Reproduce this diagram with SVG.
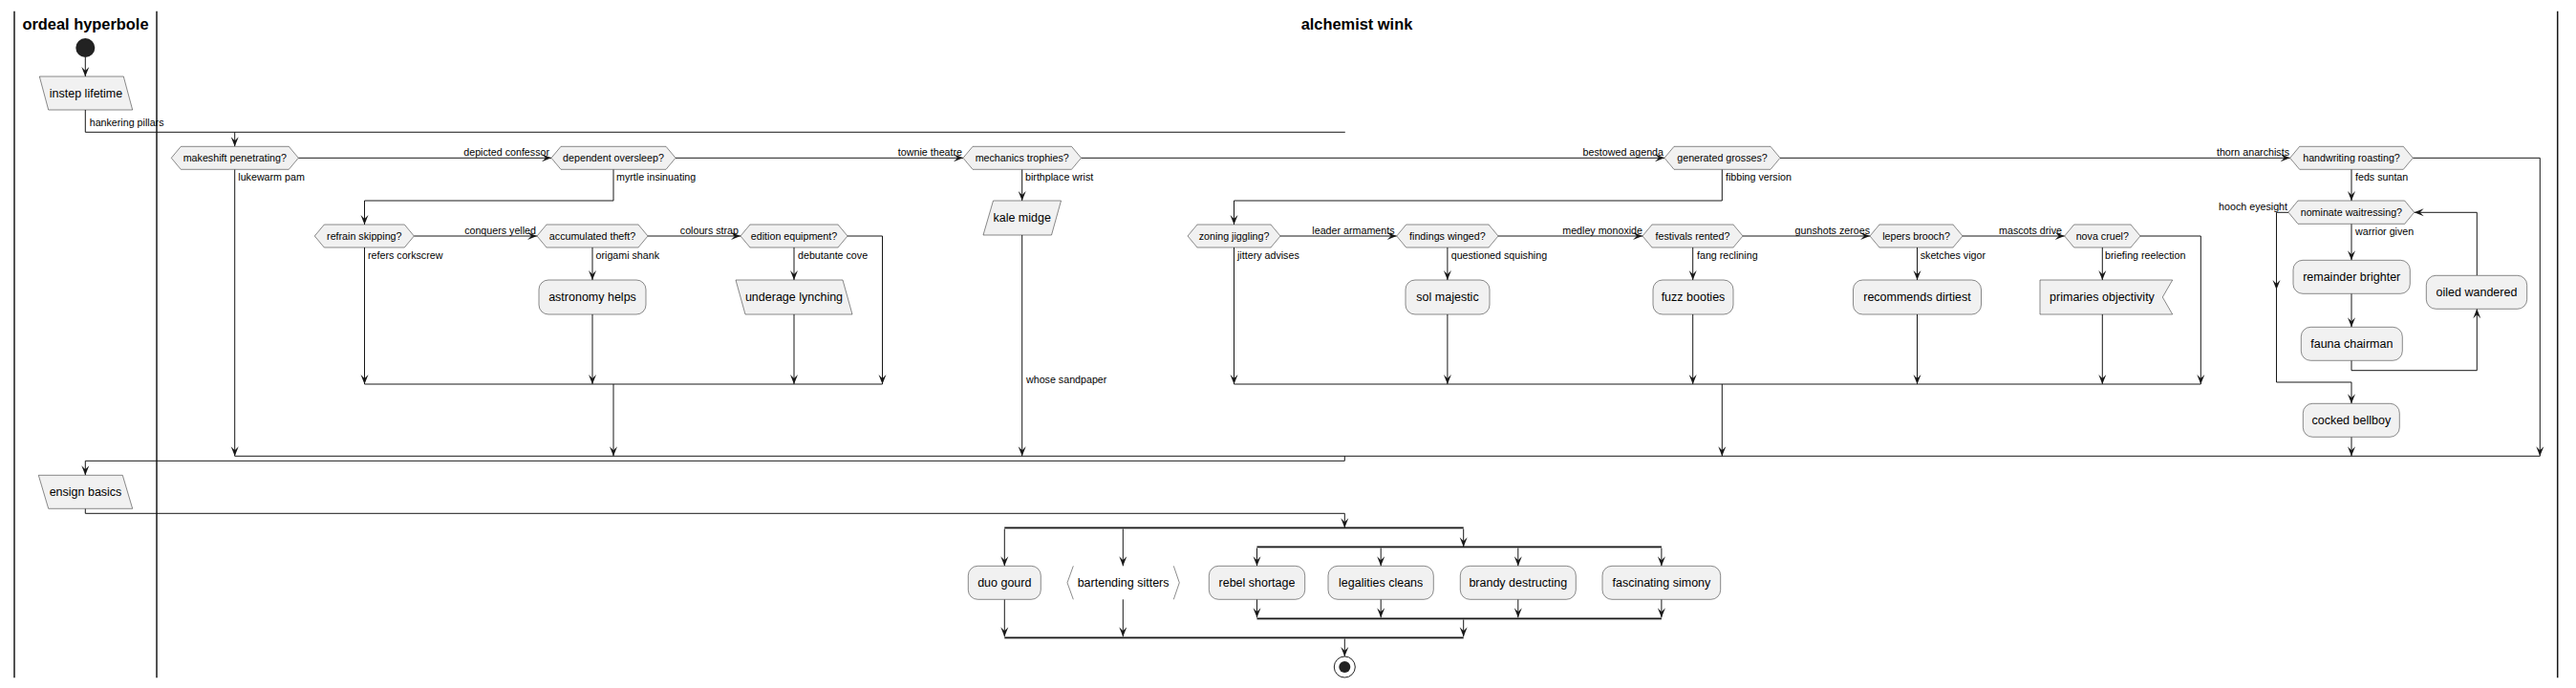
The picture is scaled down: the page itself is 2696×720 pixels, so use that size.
<svg xmlns="http://www.w3.org/2000/svg" width="2696" height="720" viewBox="0 0 2696 720">
<style>
.bg{fill:#FFFFFF}
.lane{stroke:#181818;stroke-width:1.5;fill:none}
.lt{font-family:"Liberation Sans",Arial,sans-serif;font-size:16.4px;font-weight:bold;fill:#000;text-anchor:middle}
.box{fill:#F1F1F1;stroke:#181818;stroke-width:0.5}
.brk{fill:none;stroke:#181818;stroke-width:0.5}
.t{font-family:"Liberation Sans",Arial,sans-serif;font-size:12.5px;fill:#000;text-anchor:middle}
.td{font-family:"Liberation Sans",Arial,sans-serif;font-size:10.7px;fill:#000;text-anchor:middle}
.lb{font-family:"Liberation Sans",Arial,sans-serif;font-size:10.7px;fill:#000}
.le{font-family:"Liberation Sans",Arial,sans-serif;font-size:10.7px;fill:#000;text-anchor:end}
.ln{fill:none;stroke:#181818;stroke-width:1}
.ar{fill:none;stroke:#181818;stroke-width:1;marker-end:url(#ah)}
.bar{stroke:#181818;stroke-width:1.6;fill:none}
.bar2{stroke:#9A9A9A;stroke-width:0.8;fill:none}
</style>
<defs>
<marker id="ah" markerUnits="userSpaceOnUse" markerWidth="12" markerHeight="10" viewBox="-11 -5 12 10" refX="0" refY="0" orient="auto"><path d="M0,0 L-10,-4 L-6,0 L-10,4 Z" fill="#181818"/></marker>
</defs>
<rect class="bg" x="0" y="0" width="2696" height="720"/>
<g id="lanes">
<line class="lane" x1="15" y1="11.7" x2="15" y2="709.3"/>
<line class="lane" x1="164" y1="11.7" x2="164" y2="709.3"/>
<line class="lane" x1="2676.7" y1="11.7" x2="2676.7" y2="709.3"/>
<text class="lt" x="89.5" y="31">ordeal hyperbole</text>
<text class="lt" x="1420" y="31">alchemist wink</text>
</g>
<g id="connectors">
<path class="ar" d="M89.3,60 V80"/>
<path class="ln" d="M89.3,115 V138.3 H1407.8"/>
<path class="ar" d="M245.7,138.3 V153.3"/>
<path class="ar" d="M312.3,165.3 H577"/>
<path class="ar" d="M245.7,177.3 V477.3"/>
<path class="ar" d="M707,165.3 H1008"/>
<path class="ar" d="M642,177.3 V210 H381.5 V235"/>
<path class="ar" d="M433.3,247 H562"/>
<path class="ar" d="M381.5,259 V402"/>
<path class="ar" d="M620,259 V293"/>
<path class="ar" d="M620,329 V402"/>
<path class="ar" d="M678,247 H775"/>
<path class="ar" d="M831,259 V293"/>
<path class="ar" d="M831,329 V402"/>
<path class="ar" d="M887,247 H923.5 V402"/>
<path class="ln" d="M381.5,402 H923.5"/>
<path class="ar" d="M642,402 V477.3"/>
<path class="ar" d="M1131.5,165.3 H1742"/>
<path class="ar" d="M1069.7,177.3 V210"/>
<path class="ar" d="M1069.7,246 V477.3"/>
<path class="ar" d="M1863,165.3 H2396.7"/>
<path class="ar" d="M1802.3,177.3 V210 H1291.5 V235"/>
<path class="ar" d="M1340,247 H1461.7"/>
<path class="ar" d="M1291.5,259 V402"/>
<path class="ar" d="M1514.9,259 V293"/>
<path class="ar" d="M1514.9,329 V402"/>
<path class="ar" d="M1568,247 H1719"/>
<path class="ar" d="M1771.7,259 V293"/>
<path class="ar" d="M1771.7,329 V402"/>
<path class="ar" d="M1824,247 H1957"/>
<path class="ar" d="M2006.5,259 V293"/>
<path class="ar" d="M2006.5,329 V402"/>
<path class="ar" d="M2054,247 H2160.7"/>
<path class="ar" d="M2200.3,259 V293"/>
<path class="ar" d="M2200.3,329 V402"/>
<path class="ar" d="M2240,247 H2303.3 V402"/>
<path class="ln" d="M1291.5,402 H2303.3"/>
<path class="ar" d="M1802.3,402 V477.3"/>
<path class="ar" d="M2461,177.3 V210"/>
<path class="ar" d="M2525.3,165.3 H2658.3 V477.3"/>
<path class="ar" d="M2461,234.3 V272.3"/>
<path class="ar" d="M2461,307.3 V342.3"/>
<path class="ar" d="M2461,377.3 V387.7 H2592.3 V323.3"/>
<path class="ar" d="M2592.3,288.3 V222.3 H2526.7"/>
<path class="ar" d="M2395,222.3 H2382.5 V303"/>
<path class="ar" d="M2382.5,303 V400 H2461 V422.3"/>
<path class="ar" d="M2461,457.3 V477.3"/>
<path class="ln" d="M245.7,477.3 H2658.3"/>
<path class="ar" d="M1407.3,477.3 V482.3 H89.3 V497.3"/>
<path class="ar" d="M89.3,532.3 V537.3 H1407.3 V552.3"/>
<path class="bar" d="M1051.3,552.3 H1531.7"/><path class="bar2" d="M1051.3,553.6 H1531.7"/>
<path class="ar" d="M1051.3,553.5 V592.3"/>
<path class="ar" d="M1175.3,553.5 V592.3"/>
<path class="ar" d="M1531.7,553.5 V572.3"/>
<path class="bar" d="M1315.5,572.3 H1738.9"/><path class="bar2" d="M1315.5,573.6 H1738.9"/>
<path class="ar" d="M1315.5,573.5 V592.3"/>
<path class="ar" d="M1445.2,573.5 V592.3"/>
<path class="ar" d="M1588.8,573.5 V592.3"/>
<path class="ar" d="M1738.9,573.5 V592.3"/>
<path class="ar" d="M1315.5,627.3 V646.3"/>
<path class="ar" d="M1445.2,627.3 V646.3"/>
<path class="ar" d="M1588.8,627.3 V646.3"/>
<path class="ar" d="M1738.9,627.3 V646.3"/>
<path class="bar" d="M1315.5,647.3 H1738.9"/><path class="bar2" d="M1315.5,648.6 H1738.9"/>
<path class="ar" d="M1531.7,648.5 V666.3"/>
<path class="ar" d="M1051.3,627.3 V666.3"/>
<path class="ar" d="M1175.3,627.3 V666.3"/>
<path class="bar" d="M1051.3,667.3 H1531.7"/><path class="bar2" d="M1051.3,668.6 H1531.7"/>
<path class="ar" d="M1407.3,668.5 V687"/>
</g>
<g id="labels">
<text class="lb" x="93.7" y="132">hankering pillars</text>
<text class="lb" x="249.3" y="189">lukewarm pam</text>
<text class="lb" x="645" y="189">myrtle insinuating</text>
<text class="lb" x="1073" y="189">birthplace wrist</text>
<text class="lb" x="1806" y="189">fibbing version</text>
<text class="lb" x="2465" y="189">feds suntan</text>
<text class="lb" x="385" y="271">refers corkscrew</text>
<text class="lb" x="623.5" y="271">origami shank</text>
<text class="lb" x="835" y="271">debutante cove</text>
<text class="lb" x="1295" y="271">jittery advises</text>
<text class="lb" x="1518.7" y="271">questioned squishing</text>
<text class="lb" x="1776" y="271">fang reclining</text>
<text class="lb" x="2009.7" y="271">sketches vigor</text>
<text class="lb" x="2203" y="271">briefing reelection</text>
<text class="lb" x="2465" y="246">warrior given</text>
<text class="lb" x="1074" y="401">whose sandpaper</text>
<text class="le" x="575" y="163">depicted confessor</text>
<text class="le" x="1007" y="163">townie theatre</text>
<text class="le" x="1741" y="163">bestowed agenda</text>
<text class="le" x="2396" y="163">thorn anarchists</text>
<text class="le" x="561" y="245">conquers yelled</text>
<text class="le" x="773" y="245">colours strap</text>
<text class="le" x="1459.5" y="245">leader armaments</text>
<text class="le" x="1719" y="245">medley monoxide</text>
<text class="le" x="1957" y="245">gunshots zeroes</text>
<text class="le" x="2158" y="245">mascots drive</text>
<text class="le" x="2394" y="220">hooch eyesight</text>
</g>
<g id="start"><circle cx="89.3" cy="50" r="10" fill="#222222"/></g>
<g id="instep-lifetime"><polygon class="box" points="41.3,80 129.3,80 138.7,115 50.7,115"/><text class="t" x="90" y="101.9">instep lifetime</text></g>
<g id="makeshift-penetrating"><polygon class="box" points="179.3,165.3 189.3,153.3 302.3,153.3 312.3,165.3 302.3,177.3 189.3,177.3"/><text class="td" x="245.8" y="169.1">makeshift penetrating?</text></g>
<g id="dependent-oversleep"><polygon class="box" points="577,165.3 587,153.3 697,153.3 707,165.3 697,177.3 587,177.3"/><text class="td" x="642" y="169.1">dependent oversleep?</text></g>
<g id="mechanics-trophies"><polygon class="box" points="1008,165.3 1018,153.3 1121.5,153.3 1131.5,165.3 1121.5,177.3 1018,177.3"/><text class="td" x="1069.7" y="169.1">mechanics trophies?</text></g>
<g id="generated-grosses"><polygon class="box" points="1742,165.3 1752,153.3 1853,153.3 1863,165.3 1853,177.3 1752,177.3"/><text class="td" x="1802.5" y="169.1">generated grosses?</text></g>
<g id="handwriting-roasting"><polygon class="box" points="2396.7,165.3 2406.7,153.3 2515.3,153.3 2525.3,165.3 2515.3,177.3 2406.7,177.3"/><text class="td" x="2461" y="169.1">handwriting roasting?</text></g>
<g id="refrain-skipping"><polygon class="box" points="329.3,247 339.3,235 423.3,235 433.3,247 423.3,259 339.3,259"/><text class="td" x="381.3" y="250.8">refrain skipping?</text></g>
<g id="accumulated-theft"><polygon class="box" points="562,247 572,235 668,235 678,247 668,259 572,259"/><text class="td" x="620" y="250.8">accumulated theft?</text></g>
<g id="edition-equipment"><polygon class="box" points="775,247 785,235 877,235 887,247 877,259 785,259"/><text class="td" x="831" y="250.8">edition equipment?</text></g>
<g id="astronomy-helps"><rect class="box" x="564" y="293" width="112" height="36" rx="10"/><text class="t" x="620" y="315.4">astronomy helps</text></g>
<g id="underage-lynching"><polygon class="box" points="770,293 882,293 892,329 780,329"/><text class="t" x="831" y="315.4">underage lynching</text></g>
<g id="kale-midge"><polygon class="box" points="1039.5,210 1110.5,210 1100.5,246 1029,246"/><text class="t" x="1069.7" y="232.4">kale midge</text></g>
<g id="zoning-jiggling"><polygon class="box" points="1243,247 1253,235 1330,235 1340,247 1330,259 1253,259"/><text class="td" x="1291.5" y="250.8">zoning jiggling?</text></g>
<g id="findings-winged"><polygon class="box" points="1461.7,247 1471.7,235 1558,235 1568,247 1558,259 1471.7,259"/><text class="td" x="1514.9" y="250.8">findings winged?</text></g>
<g id="festivals-rented"><polygon class="box" points="1719,247 1729,235 1814,235 1824,247 1814,259 1729,259"/><text class="td" x="1771.5" y="250.8">festivals rented?</text></g>
<g id="lepers-brooch"><polygon class="box" points="1957,247 1967,235 2044,235 2054,247 2044,259 1967,259"/><text class="td" x="2005.5" y="250.8">lepers brooch?</text></g>
<g id="nova-cruel"><polygon class="box" points="2160.7,247 2170.7,235 2230,235 2240,247 2230,259 2170.7,259"/><text class="td" x="2200.3" y="250.8">nova cruel?</text></g>
<g id="sol-majestic"><rect class="box" x="1471" y="293" width="88" height="36" rx="10"/><text class="t" x="1515" y="315.4">sol majestic</text></g>
<g id="fuzz-booties"><rect class="box" x="1730" y="293" width="84" height="36" rx="10"/><text class="t" x="1772" y="315.4">fuzz booties</text></g>
<g id="recommends-dirtiest"><rect class="box" x="1939.5" y="293" width="134" height="36" rx="10"/><text class="t" x="2006.5" y="315.4">recommends dirtiest</text></g>
<g id="primaries-objectivity"><path class="box" d="M2135,293 H2273.7 L2263.3,311 L2273.7,329 H2135 Z"/><text class="t" x="2200" y="315.4">primaries objectivity</text></g>
<g id="nominate-waitressing"><polygon class="box" points="2395,222.2 2405,210 2516.7,210 2526.7,222.2 2516.7,234.3 2405,234.3"/><text class="td" x="2460.9" y="226">nominate waitressing?</text></g>
<g id="remainder-brighter"><rect class="box" x="2400" y="272.3" width="122.3" height="35" rx="10"/><text class="t" x="2461.2" y="294.2">remainder brighter</text></g>
<g id="fauna-chairman"><rect class="box" x="2408.3" y="342.3" width="106" height="35" rx="10"/><text class="t" x="2461.3" y="364.2">fauna chairman</text></g>
<g id="oiled-wandered"><rect class="box" x="2539.3" y="288.3" width="105.4" height="35" rx="10"/><text class="t" x="2592" y="310.2">oiled wandered</text></g>
<g id="cocked-bellboy"><rect class="box" x="2410.3" y="422.3" width="101" height="35" rx="10"/><text class="t" x="2460.8" y="444.2">cocked bellboy</text></g>
<g id="ensign-basics"><polygon class="box" points="40.3,497.3 128.3,497.3 138.7,532.3 50.7,532.3"/><text class="t" x="89.5" y="519.2">ensign basics</text></g>
<g id="duo-gourd"><rect class="box" x="1013.3" y="592.3" width="76" height="35" rx="10"/><text class="t" x="1051.3" y="614.2">duo gourd</text></g>
<g id="bartending-sitters"><polyline class="brk" points="1123.3,592.3 1117,609.8 1123.3,627.3"/><polyline class="brk" points="1228.3,592.3 1234.3,609.8 1228.3,627.3"/><text class="t" x="1175.6" y="614.2">bartending sitters</text></g>
<g id="rebel-shortage"><rect class="box" x="1265.3" y="592.3" width="100.4" height="35" rx="10"/><text class="t" x="1315.5" y="614.2">rebel shortage</text></g>
<g id="legalities-cleans"><rect class="box" x="1390" y="592.3" width="110.3" height="35" rx="10"/><text class="t" x="1445.2" y="614.2">legalities cleans</text></g>
<g id="brandy-destructing"><rect class="box" x="1528.3" y="592.3" width="121" height="35" rx="10"/><text class="t" x="1588.8" y="614.2">brandy destructing</text></g>
<g id="fascinating-simony"><rect class="box" x="1677" y="592.3" width="123.7" height="35" rx="10"/><text class="t" x="1738.9" y="614.2">fascinating simony</text></g>
<g id="end"><circle cx="1407.3" cy="698" r="11" fill="none" stroke="#222222" stroke-width="1"/><circle cx="1407.3" cy="698" r="6" fill="#222222"/></g>
</svg>
